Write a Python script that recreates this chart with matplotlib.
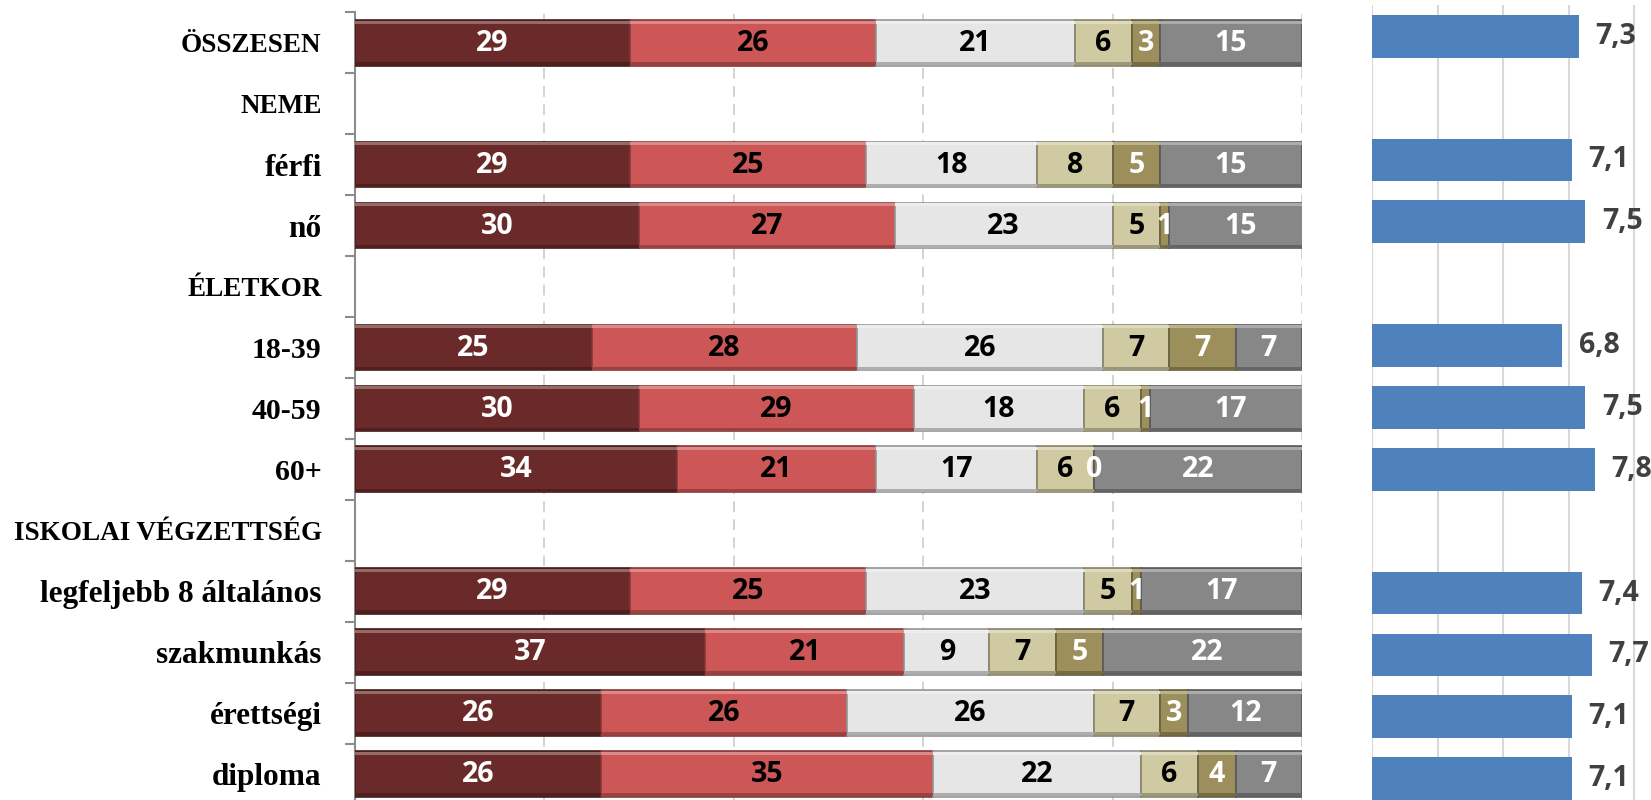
'''
Stacked percentage bars per group, with the group average on the right.
'''
import matplotlib
matplotlib.use('Agg')
import matplotlib.pyplot as plt
import numpy as np
from matplotlib.colors import to_rgb

# row labels, top to bottom (headings have no bars)
rows = ['ÖSSZESEN', 'NEME', 'férfi', 'nő', 'ÉLETKOR', '18-39', '40-59', '60+',
        'ISKOLAI VÉGZETTSÉG', 'legfeljebb 8 általános', 'szakmunkás',
        'érettségi', 'diploma']
headings = ['NEME', 'ÉLETKOR', 'ISKOLAI VÉGZETTSÉG']

# percentages of the six answer groups for each data row
s1 = [29, 29, 30, 25, 30, 34, 29, 37, 26, 26]
s2 = [26, 25, 27, 28, 29, 21, 25, 21, 26, 35]
s3 = [21, 18, 23, 26, 18, 17, 23, 9, 26, 22]
s4 = [6, 8, 5, 7, 6, 6, 5, 7, 7, 6]
s5 = [3, 5, 1, 7, 1, 0, 1, 5, 3, 4]
s6 = [15, 15, 15, 7, 17, 22, 17, 22, 12, 7]

# averages
avg = [7.3, 7.1, 7.5, 6.8, 7.5, 7.8, 7.4, 7.7, 7.1, 7.1]

colors = ['#6b2a2a', '#cd5756', '#e6e6e6', '#cfcaa2', '#9c8f5c', '#878787']
txt_colors = ['white', 'black', 'black', 'black', 'white', 'white']

num_font = ['Open Sans', 'DejaVu Sans']


def shade(c, f):
    r = np.array(to_rgb(c))
    if f > 0:
        return tuple(r + (1 - r) * f)
    return tuple(r * (1 + f))


fig = plt.figure(figsize=(16.51, 8), dpi=100)

ax1 = fig.add_axes([355 / 1651, -4.5 / 800, 947 / 1651, 792.2 / 800])
ax2 = fig.add_axes([1372 / 1651, -9.6 / 800, 278.8 / 1651, 804.3 / 800])

data_y = [i for i, r in enumerate(rows) if r not in headings]
series = [s1, s2, s3, s4, s5, s6]

h = 0.75
left = np.zeros(len(data_y))
for k, vals in enumerate(series):
    vals = np.array(vals, dtype=float)
    c = colors[k]
    ax1.barh(data_y, vals, left=left, height=h, color=c,
             edgecolor=shade(c, -0.35), linewidth=1.2, zorder=3)
    # bevel: light strip on top, dark strip at the bottom
    ax1.barh(np.array(data_y) - h / 2 + 0.035, vals, left=left, height=0.05,
             color=shade(c, 0.3), linewidth=0, zorder=4)
    ax1.barh(np.array(data_y) + h / 2 - 0.035, vals, left=left, height=0.05,
             color=shade(c, -0.25), linewidth=0, zorder=4)
    for y, l, v in zip(data_y, left, vals):
        ax1.text(l + v / 2, y + 0.01, '%d' % v, ha='center', va='center',
                 color=txt_colors[k], fontsize=20.5, fontweight='bold',
                 family=num_font, zorder=5)
    left += vals

ax1.set_xlim(0, 100)
ax1.set_ylim(12.5, -0.5)
ax1.set_xticks([0, 20, 40, 60, 80, 100])
ax1.tick_params(axis='x', length=0, labelbottom=False)
ax1.grid(axis='x', color='#d0d0d0', linestyle=(0, (6, 4)), linewidth=1.3, zorder=0)
ax1.set_yticks(range(len(rows)))
ax1.set_yticklabels(rows, fontweight='bold', family='Liberation Serif')
# capitals run narrower than the lower-case labels
for lab in ax1.get_yticklabels():
    t = lab.get_text()
    if not t[0].isalpha():
        lab.set_fontsize(21.5)
    elif t.upper() == t:
        lab.set_fontsize(19.5)
    else:
        lab.set_fontsize(22.5)
ax1.set_yticks(np.arange(-0.5, 13, 1), minor=True)
ax1.tick_params(axis='y', which='major', length=0, pad=24)
ax1.tick_params(axis='y', which='minor', length=7, width=1.5, color='#8c8c8c')
for s in ['top', 'right', 'bottom']:
    ax1.spines[s].set_visible(False)
ax1.spines['left'].set_color('#8c8c8c')
ax1.spines['left'].set_linewidth(1.5)

# averages
ax2.barh(data_y, avg, left=0, height=0.69, color='#4f81bd', zorder=3)
for y, v in zip(data_y, avg):
    ax2.annotate(('%.1f' % v).replace('.', ','), (v, y), xytext=(12, 0),
                 textcoords='offset points', ha='left', va='center',
                 color='#404040', fontsize=20.5, fontweight='bold',
                 family=num_font, annotation_clip=False)
ax2.set_xlim(1, 9.5)
ax2.set_ylim(12.5, -0.5)
ax2.set_xticks([1, 3, 5, 7, 9])
ax2.set_yticks([])
ax2.tick_params(axis='x', length=0, labelbottom=False)
ax2.grid(axis='x', color='#d9d9d9', linewidth=1.5, zorder=0)
for s in ax2.spines.values():
    s.set_visible(False)

plt.savefig('out.png', dpi=100)
